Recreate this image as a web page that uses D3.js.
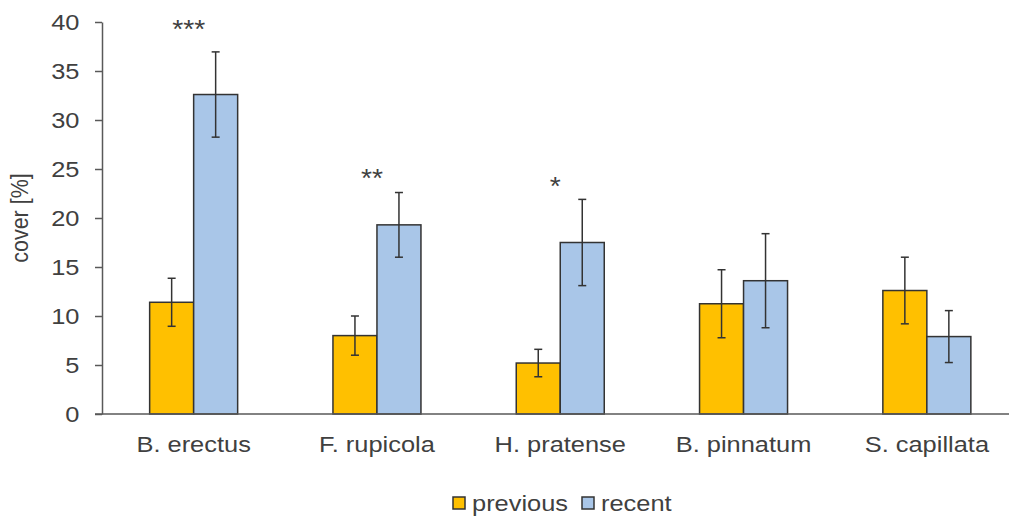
<!DOCTYPE html>
<html>
<head>
<meta charset="utf-8">
<script src="https://cdn.jsdelivr.net/npm/d3@7/dist/d3.min.js"></script>
<style>
  html, body { margin: 0; padding: 0; background: #fff; }
  svg { display: block; }
  text { font-family: "Liberation Sans", Arial, sans-serif; fill: #404040; }
</style>
</head>
<body>
<svg id="chart" width="1009" height="518"></svg>
<script>
// ---- data ----
const categories = ["B. erectus", "F. rupicola", "H. pratense", "B. pinnatum", "S. capillata"];
const seriesNames = ["previous", "recent"];
const previousValues = [11.4, 8.0, 5.2, 11.25, 12.6];
const previousErrors = [2.45, 2.0, 1.4, 3.47, 3.4];
const recentValues = [32.6, 19.3, 17.5, 13.6, 7.9];
const recentErrors = [4.35, 3.3, 4.4, 4.8, 2.65];
const sigLabels = ["***", "**", "*", "", ""];
const sigLevels = [39.9, 24.7, 23.9, 0, 0];
const yTicks = [0, 5, 10, 15, 20, 25, 30, 35, 40];

const colors = { previous: "#FFC000", recent: "#A9C6E8" };
const SX = 1.13; // horizontal text stretch seen in the reference
const FS = 22.5;

const svg = d3.select("#chart");
const mLeft = 102, mRight = 1018.5, mTop = 22, mBottom = 414;

const x = d3.scaleBand().domain(categories).range([mLeft, mRight]).padding(0);
const barW = 44;
const x1 = d3.scaleBand().domain(seriesNames).range([-barW, barW]).padding(0);
const y = d3.scaleLinear().domain([0, 40]).range([mBottom, mTop]);

const rows = categories.map((c, i) => ({
  cat: c,
  values: [
    { s: "previous", v: previousValues[i], e: previousErrors[i] },
    { s: "recent", v: recentValues[i], e: recentErrors[i] }
  ]
}));

// y axis
const yAxis = d3.axisLeft(y).tickValues(yTicks).tickSize(7).tickPadding(13).tickSizeOuter(0);
const gy = svg.append("g").attr("transform", `translate(${mLeft},0)`).call(yAxis);
gy.select(".domain").attr("stroke", "#595959").attr("stroke-width", 1.5);
gy.selectAll(".tick line").attr("stroke", "#595959").attr("stroke-width", 1.5);
gy.selectAll(".tick text").attr("font-size", FS).attr("fill", "#404040")
  .attr("transform", `scale(${SX},1)`)
  .style("font-family", '"Liberation Sans", Arial, sans-serif');

// bars
const groups = svg.append("g").selectAll("g").data(rows).join("g")
  .attr("transform", d => `translate(${x(d.cat) + x.bandwidth() / 2},0)`);

groups.selectAll("rect").data(d => d.values).join("rect")
  .attr("x", d => x1(d.s))
  .attr("width", x1.bandwidth())
  .attr("y", d => y(d.v))
  .attr("height", d => y(0) - y(d.v))
  .attr("fill", d => colors[d.s])
  .attr("stroke", "#333")
  .attr("stroke-width", 1.5);

// error bars
const eb = groups.selectAll("g.err").data(d => d.values).join("g").attr("class", "err")
  .attr("transform", d => `translate(${x1(d.s) + x1.bandwidth() / 2},0)`);
eb.append("line").attr("x1", 0).attr("x2", 0)
  .attr("y1", d => y(d.v + d.e)).attr("y2", d => y(d.v - d.e))
  .attr("stroke", "#333").attr("stroke-width", 1.5);
eb.append("line").attr("x1", -4).attr("x2", 4)
  .attr("y1", d => y(d.v + d.e)).attr("y2", d => y(d.v + d.e))
  .attr("stroke", "#333").attr("stroke-width", 1.5);
eb.append("line").attr("x1", -4).attr("x2", 4)
  .attr("y1", d => y(d.v - d.e)).attr("y2", d => y(d.v - d.e))
  .attr("stroke", "#333").attr("stroke-width", 1.5);

// x axis
const xAxis = d3.axisBottom(x).tickSize(0).tickPadding(22).tickSizeOuter(0);
const gx = svg.append("g").attr("transform", `translate(0,${mBottom})`).call(xAxis);
gx.select(".domain").attr("stroke", "#595959").attr("stroke-width", 1.5)
  .attr("d", `M${mLeft - 7},0H${mRight}`);
gx.selectAll(".tick text").attr("font-size", FS).attr("fill", "#404040")
  .attr("transform", `scale(${SX},1)`)
  .style("font-family", '"Liberation Sans", Arial, sans-serif');

// significance
svg.append("g").selectAll("text").data(categories.map((c, i) => ({ c, l: sigLabels[i], v: sigLevels[i] })).filter(d => d.l))
  .join("text")
  .attr("transform", d => `translate(${x(d.c) + x.bandwidth() / 2 - 5},${y(d.v)}) scale(${SX},1)`)
  .attr("dy", "0.6em")
  .attr("text-anchor", "middle")
  .attr("font-size", 25)
  .text(d => d.l);

// y label
svg.append("text")
  .attr("transform", `translate(28,${(mTop + mBottom) / 2}) scale(${SX},1) rotate(-90)`)
  .attr("text-anchor", "middle")
  .attr("font-size", 21.5)
  .text("cover [%]");

// legend
const legend = svg.append("g").attr("transform", "translate(453,497)");
const items = [{ s: "previous", x: 0 }, { s: "recent", x: 129 }];
const li = legend.selectAll("g").data(items).join("g").attr("transform", d => `translate(${d.x},0)`);
li.append("rect").attr("width", 12).attr("height", 12)
  .attr("fill", d => colors[d.s]).attr("stroke", "#333").attr("stroke-width", 1.5);
li.append("text").attr("transform", `translate(19,6) scale(${SX},1)`).attr("dy", "0.35em")
  .attr("font-size", FS).text(d => d.s);
</script>
</body>
</html>
